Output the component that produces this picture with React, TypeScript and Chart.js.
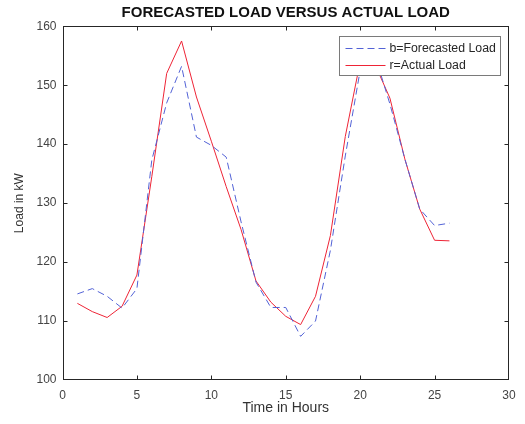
import React, { useEffect, useRef } from "react";
import { Chart, registerables } from "chart.js";

Chart.register(...registerables);

const hours = [1, 2, 3, 4, 5, 6, 7, 8, 9, 10, 11, 12, 13, 14, 15, 16, 17, 18, 19, 20, 21, 22, 23, 24, 25, 26];
const forecastedLoad = [114.6, 115.5, 114.2, 112.2, 115.5, 137.3, 147.0, 153.2, 141.2, 139.8, 137.8, 126.8, 116.6, 112.3, 112.3, 107.4, 110.0, 122.0, 138.0, 152.5, 155.0, 146.8, 137.5, 129.0, 126.2, 126.6];
const actualLoad = [113.0, 111.6, 110.6, 112.5, 117.8, 134.5, 152.0, 157.5, 148.0, 140.5, 132.8, 125.5, 116.8, 113.2, 110.8, 109.4, 114.2, 124.5, 141.3, 154.0, 153.5, 147.8, 137.5, 129.0, 123.7, 123.6];
const seriesLabels = ["b=Forecasted Load", "r=Actual Load"];
const titleText = "FORECASTED LOAD VERSUS ACTUAL LOAD";
const xTitle = "Time in Hours";
const yTitle = "Load in kW";

const FONT = "Arial, 'Liberation Sans', Helvetica, sans-serif";

const framePlugin = {
  id: "frame",
  afterDatasetsDraw(chart: any) {
    const ctx = chart.ctx;
    const { left, right, top, bottom } = chart.chartArea;
    const L = Math.round(left) + 0.5;
    const R = Math.round(right) - 0.5;
    const T = Math.round(top) + 0.5;
    const B = Math.round(bottom) - 0.5;
    ctx.save();
    ctx.strokeStyle = "#262626";
    ctx.lineWidth = 1;
    ctx.setLineDash([]);
    ctx.strokeRect(L, T, R - L, B - T);
    const tl = 4;
    const xs = chart.scales.x;
    const ys = chart.scales.y;
    ctx.beginPath();
    xs.ticks.forEach((t: any) => {
      const px = Math.round(xs.getPixelForValue(t.value)) + 0.5;
      if (px <= L + 1 || px >= R - 1) return;
      ctx.moveTo(px, B);
      ctx.lineTo(px, B - tl);
      ctx.moveTo(px, T);
      ctx.lineTo(px, T + tl);
    });
    ys.ticks.forEach((t: any) => {
      const py = Math.round(ys.getPixelForValue(t.value)) + 0.5;
      if (py <= T + 1 || py >= B - 1) return;
      ctx.moveTo(L, py);
      ctx.lineTo(L + tl, py);
      ctx.moveTo(R, py);
      ctx.lineTo(R - tl, py);
    });
    ctx.stroke();

    // legend box inside the plot (north-east)
    const boxW = 161;
    const boxH = 39;
    const bx = Math.round(right) - 9 - boxW + 0.5;
    const by = Math.round(top) + 10 + 0.5;
    ctx.fillStyle = "#ffffff";
    ctx.fillRect(bx, by, boxW, boxH);
    ctx.strokeStyle = "#7a7a7a";
    ctx.strokeRect(bx, by, boxW, boxH);
    ctx.font = `12.3px ${FONT}`;
    ctx.textBaseline = "middle";
    ctx.textAlign = "left";
    chart.data.datasets.forEach((ds: any, i: number) => {
      const cy = Math.round(by + 11.5 + i * 16.5) + 0.5;
      ctx.strokeStyle = ds.borderColor;
      ctx.lineWidth = 1;
      ctx.setLineDash(ds.borderDash || []);
      ctx.beginPath();
      ctx.moveTo(bx + 6, cy);
      ctx.lineTo(bx + 46, cy);
      ctx.stroke();
      ctx.setLineDash([]);
      ctx.fillStyle = "#262626";
      ctx.fillText(ds.label, bx + 50, cy);
    });
    ctx.restore();
  },
};

export default function App() {
  const canvasRef = useRef<HTMLCanvasElement | null>(null);

  useEffect(() => {
    if (!canvasRef.current) return;
    const chart = new Chart(canvasRef.current, {
      type: "line",
      data: {
        labels: hours,
        datasets: [
          {
            label: seriesLabels[0],
            data: hours.map((h, i) => ({ x: h, y: forecastedLoad[i] })),
            borderColor: "#5262d6",
            borderWidth: 1,
            borderDash: [7, 4],
            pointRadius: 0,
            fill: false,
            tension: 0,
          },
          {
            label: seriesLabels[1],
            data: hours.map((h, i) => ({ x: h, y: actualLoad[i] })),
            borderColor: "#ee2436",
            borderWidth: 1,
            pointRadius: 0,
            fill: false,
            tension: 0,
          },
        ],
      },
      options: {
        responsive: false,
        animation: false,
        layout: { padding: { left: 0, right: 16, top: 0, bottom: 0 } },
        plugins: {
          legend: { display: false },
          tooltip: { enabled: false },
          title: {
            display: true,
            fullSize: false,
            text: titleText,
            color: "#111111",
            font: { family: FONT, size: 15, weight: "bold", lineHeight: 1.15 },
            padding: { top: 4, bottom: 5 },
          },
        },
        scales: {
          x: {
            type: "linear",
            min: 0,
            max: 30,
            grid: { display: false, drawTicks: false, tickLength: 0 },
            border: { display: false },
            ticks: {
              stepSize: 5,
              color: "#444444",
              font: { family: FONT, size: 12 },
              padding: 8,
              maxRotation: 0,
            },
            title: {
              display: true,
              text: xTitle,
              color: "#333333",
              font: { family: FONT, size: 14 },
              padding: { top: 0, bottom: 7 },
            },
            afterFit: (scale: any) => {
              scale.height = 44;
            },
          },
          y: {
            type: "linear",
            min: 100,
            max: 160,
            grid: { display: false, drawTicks: false, tickLength: 0 },
            border: { display: false },
            ticks: {
              stepSize: 10,
              color: "#444444",
              font: { family: FONT, size: 12 },
              padding: 6,
            },
            title: {
              display: true,
              text: yTitle,
              color: "#333333",
              font: { family: FONT, size: 12 },
              padding: { top: 12, bottom: 0 },
            },
            afterFit: (scale: any) => {
              scale.width = 62.5;
            },
          },
        },
      },
      plugins: [framePlugin],
    });
    return () => chart.destroy();
  }, []);

  return (
    <div style={{ position: "absolute", left: 0, top: 0, width: 525, height: 424, background: "#ffffff" }}>
      <canvas ref={canvasRef} width={525} height={424} />
    </div>
  );
}
